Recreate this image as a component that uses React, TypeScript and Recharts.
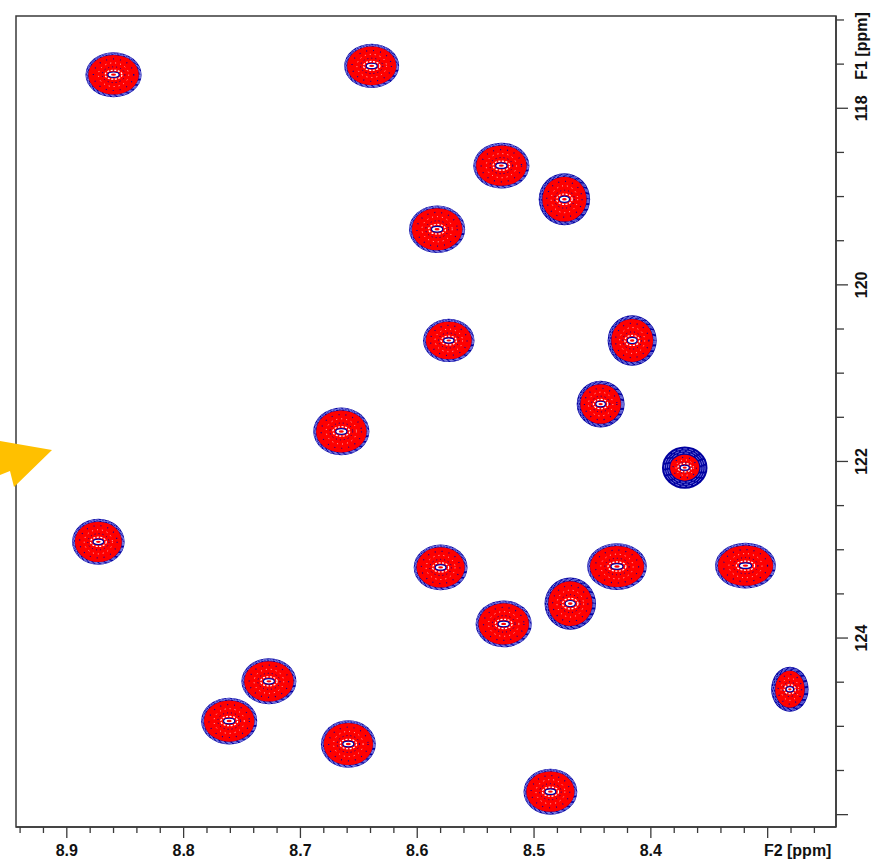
import { ReferenceArea, Scatter, ScatterChart, XAxis, YAxis } from "recharts";

const CHART_W = 877;
const CHART_H = 862;
const MARGIN = { top: 16, right: 1, bottom: 0, left: 16 };
const Y_AXIS_W = 40;
const X_AXIS_H = 35;

const F2_DOMAIN: [number, number] = [8.2415, 8.9435];
const F1_DOMAIN: [number, number] = [116.955, 126.14];

// pixels per ppm inside the plot box, used to size the peak ellipses
const PLOT_W = CHART_W - MARGIN.left - MARGIN.right - Y_AXIS_W;
const PLOT_H = CHART_H - MARGIN.top - MARGIN.bottom - X_AXIS_H;
const PX_PER_F2 = PLOT_W / (F2_DOMAIN[1] - F2_DOMAIN[0]);
const PX_PER_F1 = PLOT_H / (F1_DOMAIN[1] - F1_DOMAIN[0]);

// cross peaks: 1H shift (F2), 15N shift (F1), line widths in ppm, relative height
const peakF2 = [
  8.86, 8.639, 8.528, 8.474, 8.583, 8.573, 8.416, 8.443, 8.665, 8.371, 8.873,
  8.58, 8.429, 8.319, 8.469, 8.526, 8.727, 8.761, 8.659, 8.486, 8.281,
];
const peakF1 = [
  117.62, 117.52, 118.65, 119.03, 119.37, 120.63, 120.63, 121.35, 121.66, 122.07,
  122.91, 123.2, 123.19, 123.18, 123.61, 123.84, 124.49, 124.94, 125.2, 125.74,
  124.58,
];
const widthF2 = [
  0.048, 0.047, 0.048, 0.044, 0.048, 0.044, 0.042, 0.041, 0.048, 0.039, 0.045,
  0.046, 0.051, 0.052, 0.044, 0.048, 0.047, 0.048, 0.047, 0.046, 0.032,
];
const widthF1 = [
  0.51, 0.5, 0.52, 0.59, 0.54, 0.49, 0.57, 0.53, 0.54, 0.48, 0.52, 0.52, 0.53,
  0.52, 0.59, 0.53, 0.52, 0.53, 0.54, 0.52, 0.51,
];
const peakLevel = [
  1, 1, 1, 0.93, 1, 1, 0.93, 0.93, 1, 0.55, 1, 1, 1, 1, 0.93, 1, 1, 1, 1, 1, 0.9,
];

const F2_MAJOR = [8.9, 8.8, 8.7, 8.6, 8.5, 8.4, 8.3];
const F2_MINOR = [
  8.94, 8.92, 8.88, 8.86, 8.84, 8.82, 8.78, 8.76, 8.74, 8.72, 8.68, 8.66, 8.64,
  8.62, 8.58, 8.56, 8.54, 8.52, 8.48, 8.46, 8.44, 8.42, 8.38, 8.36, 8.34, 8.32,
  8.28, 8.26,
];
const F1_MAJOR = [118, 120, 122, 124, 126];
const F1_MINOR = [
  117, 117.5, 118.5, 119, 119.5, 120.5, 121, 121.5, 122.5, 123, 123.5, 124.5,
  125, 125.5,
];
// the last major tick on each axis carries the axis title instead of a number
const F2_TITLE_AT = 8.3;
const F1_UNLABELED = [126];

const RED = "#ff0000";
const NAVY = "#0000a0";
const AXIS = "#3a3a3a";
const FONT = "'Liberation Sans', Arial, sans-serif";

const peaks = peakF2.map((f2, i) => ({
  f2,
  f1: peakF1[i],
  wF2: widthF2[i],
  wF1: widthF1[i],
  level: peakLevel[i],
}));

const near = (list: number[], v: number) => list.some((t) => Math.abs(t - v) < 1e-6);

function PeakContours(props: any) {
  const { cx, cy, payload } = props;
  if (cx == null || cy == null || !payload) return null;
  const rx = (payload.wF2 / 2) * PX_PER_F2;
  const ry = (payload.wF1 / 2) * PX_PER_F1;
  const rim = 2.8 + (1 - payload.level) * 12;
  const gaps = [0.3, 0.55, 0.8];
  return (
    <g>
      <ellipse cx={cx} cy={cy} rx={rx} ry={ry} fill={NAVY} />
      {gaps.map((g) => (
        <ellipse
          key={g}
          cx={cx}
          cy={cy}
          rx={rx - rim * g}
          ry={ry - rim * g}
          fill="none"
          stroke="#b8b8ff"
          strokeWidth={0.6}
          strokeDasharray="4 2"
        />
      ))}
      <ellipse cx={cx} cy={cy} rx={rx - rim} ry={ry - rim} fill={RED} />
      <ellipse
        cx={cx}
        cy={cy}
        rx={(rx - rim) * 0.8}
        ry={(ry - rim) * 0.8}
        fill="none"
        stroke={NAVY}
        strokeWidth={1.2}
        strokeDasharray="1 6"
      />
      <ellipse
        cx={cx}
        cy={cy}
        rx={(rx - rim) * 0.6}
        ry={(ry - rim) * 0.6}
        fill="none"
        stroke="#ffffff"
        strokeWidth={0.8}
        strokeDasharray="1 4"
      />
      <ellipse
        cx={cx}
        cy={cy}
        rx={(rx - rim) * 0.45}
        ry={(ry - rim) * 0.4}
        fill="none"
        stroke={NAVY}
        strokeWidth={1}
        strokeDasharray="1 3"
      />
      <ellipse
        cx={cx}
        cy={cy}
        rx={rx * 0.3}
        ry={ry * 0.2}
        fill="none"
        stroke="#ffffff"
        strokeWidth={1.2}
        strokeDasharray="2 1.5"
      />
      <ellipse
        cx={cx}
        cy={cy}
        rx={rx * 0.2}
        ry={ry * 0.12}
        fill="#ffffff"
        stroke={NAVY}
        strokeWidth={1.2}
      />
      <ellipse cx={cx} cy={cy} rx={rx * 0.09} ry={ry * 0.05} fill={RED} />
    </g>
  );
}

function F2Tick(props: any) {
  const { x, y, payload } = props;
  const v = payload.value as number;
  const major = near(F2_MAJOR, v);
  const isTitle = Math.abs(v - F2_TITLE_AT) < 1e-6;
  return (
    <g>
      <line x1={x} y1={y} x2={x} y2={y + (major ? 11 : 6)} stroke={AXIS} strokeWidth={1.3} />
      {major && (
        <text
          x={isTitle ? x + 30 : x}
          y={y + 29}
          textAnchor="middle"
          fontFamily={FONT}
          fontWeight="bold"
          fontSize={16}
          fill="#111"
        >
          {isTitle ? "F2 [ppm]" : v.toFixed(1)}
        </text>
      )}
    </g>
  );
}

function F1Tick(props: any) {
  const { x, y, payload } = props;
  const v = payload.value as number;
  const major = near(F1_MAJOR, v);
  const labeled = major && !near(F1_UNLABELED, v);
  const tx = x + 31;
  return (
    <g>
      <line x1={x} y1={y} x2={x + (major ? 12 : 8)} y2={y} stroke={AXIS} strokeWidth={1.3} />
      {labeled && (
        <text
          x={tx}
          y={y}
          transform={`rotate(-90, ${tx}, ${y})`}
          textAnchor="middle"
          fontFamily={FONT}
          fontWeight="bold"
          fontSize={16}
          fill="#111"
        >
          {v}
        </text>
      )}
    </g>
  );
}

function F1Title(props: any) {
  const vb = props.viewBox ?? {};
  const tx = (vb.x ?? 836) + 31;
  const ty = (vb.y ?? 16) + 30;
  return (
    <text
      x={tx}
      y={ty}
      transform={`rotate(-90, ${tx}, ${ty})`}
      textAnchor="middle"
      fontFamily={FONT}
      fontWeight="bold"
      fontSize={16}
      fill="#111"
    >
      F1 [ppm]
    </text>
  );
}

export default function App() {
  return (
    <div
      style={{
        position: "absolute",
        left: 0,
        top: 0,
        width: CHART_W,
        height: CHART_H,
        background: "#fff",
      }}
    >
      <ScatterChart width={CHART_W} height={CHART_H} margin={MARGIN}>
        <XAxis
          type="number"
          dataKey="f2"
          domain={F2_DOMAIN}
          reversed
          allowDataOverflow
          ticks={[...F2_MAJOR, ...F2_MINOR].sort((a, b) => a - b)}
          interval={0}
          tick={<F2Tick />}
          tickLine={false}
          tickSize={0}
          tickMargin={0}
          height={X_AXIS_H}
          axisLine={{ stroke: AXIS, strokeWidth: 1.5 }}
        />
        <YAxis
          type="number"
          dataKey="f1"
          orientation="right"
          domain={F1_DOMAIN}
          reversed
          allowDataOverflow
          ticks={[...F1_MAJOR, ...F1_MINOR].sort((a, b) => a - b)}
          interval={0}
          tick={<F1Tick />}
          tickLine={false}
          tickSize={0}
          tickMargin={0}
          width={Y_AXIS_W}
          axisLine={{ stroke: AXIS, strokeWidth: 1.5 }}
          label={(p: any) => <F1Title {...p} />}
        />
        <ReferenceArea
          x1={F2_DOMAIN[1]}
          x2={F2_DOMAIN[0]}
          y1={F1_DOMAIN[0]}
          y2={F1_DOMAIN[1]}
          fill="none"
          stroke={AXIS}
          strokeWidth={1.5}
          ifOverflow="visible"
        />
        <Scatter data={peaks} shape={<PeakContours />} isAnimationActive={false} />
      </ScatterChart>
      {/* annotation arrow at the left edge */}
      <svg
        width={60}
        height={60}
        viewBox="0 430 60 60"
        style={{ position: "absolute", left: 0, top: 430, pointerEvents: "none" }}
      >
        <polygon points="0,441 52,450 14,487 10,471 0,475" fill="#ffc000" />
      </svg>
    </div>
  );
}
